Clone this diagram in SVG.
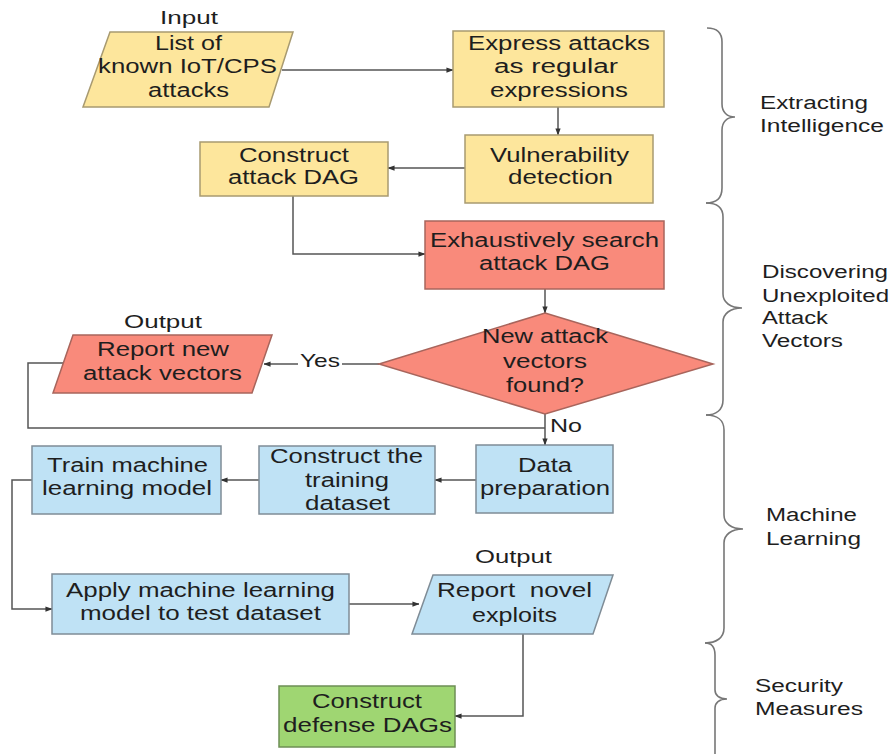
<svg xmlns="http://www.w3.org/2000/svg" width="896" height="754" viewBox="0 0 896 754">
  <defs>
    <marker id="arrow" viewBox="0 0 8 8" refX="7.5" refY="4" markerWidth="7" markerHeight="7" markerUnits="userSpaceOnUse" orient="auto">
      <path d="M0,1 L8,4 L0,7 Z" fill="#333"/>
    </marker>
    <style>
      text { font-family: "Liberation Sans", Arial, sans-serif; fill: #1e1e1e; }
      .t { font-size: 20px; }
      .lbl { font-size: 19px; }
      .side { font-size: 18px; }
      .yellow { fill: #fde69c; stroke: #a89a70; stroke-width: 1.5; }
      .red { fill: #f98a7b; stroke: #a8655c; stroke-width: 1.5; }
      .blue { fill: #bfe2f5; stroke: #7f8c96; stroke-width: 1.5; }
      .green { fill: #9fd672; stroke: #6e8f55; stroke-width: 1.5; }
      .conn { fill: none; stroke: #555; stroke-width: 1.5; }
      .brace { fill: none; stroke: #777; stroke-width: 1.6; }
    </style>
  </defs>
  <rect width="896" height="754" fill="#ffffff"/>

  <!-- connectors -->
  <g id="connectors">
    <path class="conn" d="M282,70 H453" marker-end="url(#arrow)"/>
    <path class="conn" d="M558,107 V135" marker-end="url(#arrow)"/>
    <path class="conn" d="M465,168 H388" marker-end="url(#arrow)"/>
    <path class="conn" d="M293,196 V254 H425" marker-end="url(#arrow)"/>
    <path class="conn" d="M545,289 V313" marker-end="url(#arrow)"/>
    <path class="conn" d="M379,364 H264" marker-end="url(#arrow)"/>
    <path class="conn" d="M63,363 H28 V428 H545"/>
    <path class="conn" d="M545,414 V445" marker-end="url(#arrow)"/>
    <path class="conn" d="M476,480 H435" marker-end="url(#arrow)"/>
    <path class="conn" d="M259,480 H221" marker-end="url(#arrow)"/>
    <path class="conn" d="M32,480 H12 V609 H52" marker-end="url(#arrow)"/>
    <path class="conn" d="M349,604 H419" marker-end="url(#arrow)"/>
    <path class="conn" d="M523,634 V716 H455" marker-end="url(#arrow)"/>
    <!-- branch labels -->
    <rect x="298" y="352" width="44" height="20" fill="#ffffff"/>
    <text class="lbl" x="300" y="367" textLength="40" lengthAdjust="spacingAndGlyphs">Yes</text>
    <text class="lbl" x="550" y="432" textLength="32" lengthAdjust="spacingAndGlyphs">No</text>
  </g>

  <!-- Extracting Intelligence -->
  <g id="input-attacks">
    <text class="lbl" x="160" y="24" textLength="58" lengthAdjust="spacingAndGlyphs">Input</text>
    <polygon class="yellow" points="110,32 293,32 269,107 83,107"/>
    <text class="t" x="155" y="50" textLength="67" lengthAdjust="spacingAndGlyphs">List of</text>
    <text class="t" x="98" y="73" textLength="179" lengthAdjust="spacingAndGlyphs">known IoT/CPS</text>
    <text class="t" x="148" y="97" textLength="81" lengthAdjust="spacingAndGlyphs">attacks</text>
  </g>
  <g id="express-regex">
    <rect class="yellow" x="453" y="31" width="211" height="76"/>
    <text class="t" x="468" y="50" textLength="182" lengthAdjust="spacingAndGlyphs">Express attacks</text>
    <text class="t" x="494" y="73" textLength="124" lengthAdjust="spacingAndGlyphs">as regular</text>
    <text class="t" x="490" y="97" textLength="138" lengthAdjust="spacingAndGlyphs">expressions</text>
  </g>
  <g id="vulnerability-detection">
    <rect class="yellow" x="465" y="135" width="188" height="68"/>
    <text class="t" x="490" y="162" textLength="139" lengthAdjust="spacingAndGlyphs">Vulnerability</text>
    <text class="t" x="508" y="184" textLength="105" lengthAdjust="spacingAndGlyphs">detection</text>
  </g>
  <g id="construct-attack-dag">
    <rect class="yellow" x="200" y="142" width="188" height="54"/>
    <text class="t" x="239" y="162" textLength="110" lengthAdjust="spacingAndGlyphs">Construct</text>
    <text class="t" x="228" y="184" textLength="131" lengthAdjust="spacingAndGlyphs">attack DAG</text>
  </g>

  <!-- Discovering Unexploited Attack Vectors -->
  <g id="search-dag">
    <rect class="red" x="425" y="221" width="239" height="68"/>
    <text class="t" x="430" y="247" textLength="229" lengthAdjust="spacingAndGlyphs">Exhaustively search</text>
    <text class="t" x="479" y="270" textLength="131" lengthAdjust="spacingAndGlyphs">attack DAG</text>
  </g>
  <g id="new-vectors-decision">
    <polygon class="red" points="545,313 713,364 545,414 379,364"/>
    <text class="t" x="482" y="343" textLength="126" lengthAdjust="spacingAndGlyphs">New attack</text>
    <text class="t" x="503" y="368" textLength="84" lengthAdjust="spacingAndGlyphs">vectors</text>
    <text class="t" x="506" y="392" textLength="78" lengthAdjust="spacingAndGlyphs">found?</text>
  </g>
  <g id="report-new-vectors">
    <text class="lbl" x="124" y="328" textLength="78" lengthAdjust="spacingAndGlyphs">Output</text>
    <polygon class="red" points="73,335 272,335 252,393 53,393"/>
    <text class="t" x="97" y="356" textLength="132" lengthAdjust="spacingAndGlyphs">Report new</text>
    <text class="t" x="83" y="380" textLength="159" lengthAdjust="spacingAndGlyphs">attack vectors</text>
  </g>

  <!-- Machine Learning -->
  <g id="data-preparation">
    <rect class="blue" x="476" y="445" width="137" height="68"/>
    <text class="t" x="518" y="472" textLength="54" lengthAdjust="spacingAndGlyphs">Data</text>
    <text class="t" x="480" y="495" textLength="130" lengthAdjust="spacingAndGlyphs">preparation</text>
  </g>
  <g id="training-dataset">
    <rect class="blue" x="259" y="446" width="176" height="68"/>
    <text class="t" x="270" y="463" textLength="153" lengthAdjust="spacingAndGlyphs">Construct the</text>
    <text class="t" x="305" y="487" textLength="84" lengthAdjust="spacingAndGlyphs">training</text>
    <text class="t" x="305" y="510" textLength="85" lengthAdjust="spacingAndGlyphs">dataset</text>
  </g>
  <g id="train-model">
    <rect class="blue" x="32" y="446" width="189" height="68"/>
    <text class="t" x="47" y="472" textLength="161" lengthAdjust="spacingAndGlyphs">Train machine</text>
    <text class="t" x="42" y="495" textLength="170" lengthAdjust="spacingAndGlyphs">learning model</text>
  </g>
  <g id="apply-model">
    <rect class="blue" x="52" y="574" width="297" height="60"/>
    <text class="t" x="66" y="597" textLength="269" lengthAdjust="spacingAndGlyphs">Apply machine learning</text>
    <text class="t" x="80" y="620" textLength="241" lengthAdjust="spacingAndGlyphs">model to test dataset</text>
  </g>
  <g id="report-novel-exploits">
    <text class="lbl" x="475" y="563" textLength="77" lengthAdjust="spacingAndGlyphs">Output</text>
    <polygon class="blue" points="433,575 613,575 593,634 412,634"/>
    <text class="t" x="437" y="597" textLength="155" lengthAdjust="spacingAndGlyphs" xml:space="preserve">Report  novel</text>
    <text class="t" x="472" y="622" textLength="85" lengthAdjust="spacingAndGlyphs">exploits</text>
  </g>

  <!-- Security Measures -->
  <g id="defense-dags">
    <rect class="green" x="279" y="686" width="176" height="61"/>
    <text class="t" x="312" y="708" textLength="110" lengthAdjust="spacingAndGlyphs">Construct</text>
    <text class="t" x="283" y="732" textLength="169" lengthAdjust="spacingAndGlyphs">defense DAGs</text>
  </g>

  <!-- phase braces -->
  <g id="phases">
    <path class="brace" d="M707,28 C716,28 722,32 722,42 L722,104 C722,112 727,117 735,117 C727,117 722,122 722,130 L722,188 C722,198 716,203 706,203"/>
    <path class="brace" d="M706,203 C716,203 723,207 723,217 L723,294 C723,302 730,308 742,308 C730,308 723,314 723,322 L723,400 C723,410 716,415 706,415"/>
    <path class="brace" d="M706,415 C717,415 724,420 724,430 L724,515 C724,523 731,529 743,529 C731,529 724,535 724,543 L724,628 C724,638 716,643 705,643"/>
    <path class="brace" d="M705,643 C711,643 715,647 715,655 L715,690 C715,695 719,699 727,699 C719,699 715,703 715,708 L715,754"/>
    <text class="side" x="760" y="109" textLength="108" lengthAdjust="spacingAndGlyphs">Extracting</text>
    <text class="side" x="760" y="132" textLength="124" lengthAdjust="spacingAndGlyphs">Intelligence</text>
    <text class="side" x="762" y="278" textLength="126" lengthAdjust="spacingAndGlyphs">Discovering</text>
    <text class="side" x="762" y="302" textLength="127" lengthAdjust="spacingAndGlyphs">Unexploited</text>
    <text class="side" x="762" y="324" textLength="66" lengthAdjust="spacingAndGlyphs">Attack</text>
    <text class="side" x="762" y="347" textLength="81" lengthAdjust="spacingAndGlyphs">Vectors</text>
    <text class="side" x="766" y="521" textLength="91" lengthAdjust="spacingAndGlyphs">Machine</text>
    <text class="side" x="766" y="545" textLength="95" lengthAdjust="spacingAndGlyphs">Learning</text>
    <text class="side" x="755" y="692" textLength="88" lengthAdjust="spacingAndGlyphs">Security</text>
    <text class="side" x="755" y="715" textLength="108" lengthAdjust="spacingAndGlyphs">Measures</text>
  </g>
</svg>
